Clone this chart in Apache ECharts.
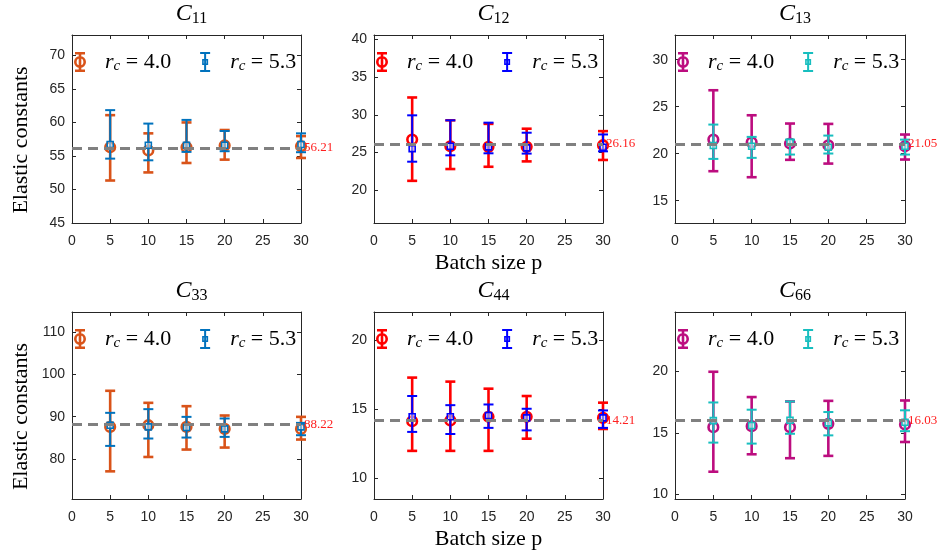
<!DOCTYPE html>
<html>
<head>
<meta charset="utf-8">
<script src="https://cdn.jsdelivr.net/npm/echarts@6/dist/echarts.min.js"></script>
<style>
html,body{margin:0;padding:0;background:#fff;}
#chart{width:945px;height:552px;}
</style>
</head>
<body>
<div id="chart"></div>
<script>
// ---------------- DATA ----------------
const BATCH = [5, 10, 15, 20, 30];
const X_TICKS = [0, 5, 10, 15, 20, 25, 30];
const RC = ['4.0', '5.3'];
const PANEL_KEYS = ['11', '12', '13', '33', '44', '66'];
const REF = [56.21, 26.16, 21.05, 88.22, 14.21, 16.03];

const C11_TICKS = [45, 50, 55, 60, 65, 70];
const C12_TICKS = [20, 25, 30, 35, 40];
const C13_TICKS = [15, 20, 25, 30];
const C33_TICKS = [80, 90, 100, 110];
const C44_TICKS = [10, 15, 20];
const C66_TICKS = [10, 15, 20];

const C11_R40_MEAN = [56.30, 55.80, 56.30, 56.56, 56.45];
const C11_R40_LO   = [51.32, 52.53, 53.94, 54.44, 54.69];
const C11_R40_HI   = [61.09, 58.37, 60.00, 58.87, 57.96];
const C11_R53_MEAN = [56.71, 56.60, 56.60, 56.60, 56.70];
const C11_R53_LO   = [54.59, 54.34, 55.60, 55.70, 55.55];
const C11_R53_HI   = [61.84, 59.83, 60.38, 58.72, 58.37];

const C12_R40_MEAN = [26.73, 25.84, 25.76, 25.76, 25.98];
const C12_R40_LO   = [21.27, 22.83, 23.13, 23.84, 24.03];
const C12_R40_HI   = [32.29, 29.27, 28.80, 28.16, 27.84];
const C12_R53_MEAN = [25.53, 25.84, 25.76, 25.63, 25.71];
const C12_R53_LO   = [23.80, 24.64, 24.91, 24.87, 25.17];
const C12_R53_HI   = [29.93, 29.27, 28.96, 27.63, 27.40];

const C13_R40_MEAN = [21.51, 21.22, 21.08, 20.90, 20.80];
const C13_R40_LO   = [18.14, 17.50, 19.35, 18.95, 19.38];
const C13_R40_HI   = [26.75, 24.09, 23.21, 23.17, 22.04];
const C13_R53_MEAN = [20.87, 20.80, 21.22, 20.69, 20.80];
const C13_R53_LO   = [19.45, 19.56, 19.91, 20.02, 19.91];
const C13_R53_HI   = [23.10, 21.79, 21.50, 21.93, 21.50];

const C33_R40_MEAN = [87.58, 87.98, 87.58, 87.11, 87.11];
const C33_R40_LO   = [77.10, 80.49, 82.24, 82.71, 84.60];
const C33_R40_HI   = [96.10, 93.26, 92.47, 90.27, 89.95];
const C33_R53_MEAN = [87.98, 87.58, 87.43, 87.11, 87.58];
const C33_R53_LO   = [83.10, 84.84, 85.07, 85.23, 85.62];
const C33_R53_HI   = [90.90, 91.77, 89.95, 89.57, 88.53];

const C44_R40_MEAN = [14.14, 14.19, 14.46, 14.46, 14.38];
const C44_R40_LO   = [12.00, 12.00, 12.00, 12.88, 13.58];
const C44_R40_HI   = [17.29, 17.00, 16.49, 15.96, 15.48];
const C44_R53_MEAN = [14.46, 14.46, 14.55, 14.38, 14.38];
const C44_R53_LO   = [13.37, 13.22, 13.66, 13.48, 13.66];
const C44_R53_HI   = [15.96, 15.30, 15.35, 15.04, 14.92];

const C66_R40_MEAN = [15.47, 15.55, 15.47, 15.74, 15.68];
const C66_R40_LO   = [11.84, 13.26, 12.94, 13.13, 14.26];
const C66_R40_HI   = [19.98, 17.92, 17.56, 17.61, 17.64];
const C66_R53_MEAN = [16.00, 15.60, 16.03, 15.82, 15.87];
const C66_R53_LO   = [14.21, 14.13, 14.93, 14.80, 15.14];
const C66_R53_HI   = [17.48, 16.89, 17.56, 16.70, 16.84];

// ---------------- STYLE / LAYOUT ----------------
const LIM_FACTORS = [[0.8, 1.3], [0.6, 1.55], [0.6, 1.55], [0.8, 1.3], [0.6, 1.55], [0.6, 1.55]];
const COLORS = [
  ['#D95319', '#0072BD'],
  ['#FF0000', '#0000FF'],
  ['#BC0D7F', '#17BEBF'],
  ['#D95319', '#0072BD'],
  ['#FF0000', '#0000FF'],
  ['#BC0D7F', '#17BEBF']
];
const GRID_LEFT = [72, 374, 675];
const GRID_W = [229, 229, 230];
const ROW_TOP = [35, 312];
const ROW_H = [188, 187];
const AX_COLOR = '#262626';
const SERIF = 'Liberation Serif';
const SANS = 'Liberation Sans';

const TICKS = [C11_TICKS, C12_TICKS, C13_TICKS, C33_TICKS, C44_TICKS, C66_TICKS];
const SERIES_DATA = [
  [[C11_R40_MEAN, C11_R40_LO, C11_R40_HI], [C11_R53_MEAN, C11_R53_LO, C11_R53_HI]],
  [[C12_R40_MEAN, C12_R40_LO, C12_R40_HI], [C12_R53_MEAN, C12_R53_LO, C12_R53_HI]],
  [[C13_R40_MEAN, C13_R40_LO, C13_R40_HI], [C13_R53_MEAN, C13_R53_LO, C13_R53_HI]],
  [[C33_R40_MEAN, C33_R40_LO, C33_R40_HI], [C33_R53_MEAN, C33_R53_LO, C33_R53_HI]],
  [[C44_R40_MEAN, C44_R40_LO, C44_R40_HI], [C44_R53_MEAN, C44_R53_LO, C44_R53_HI]],
  [[C66_R40_MEAN, C66_R40_LO, C66_R40_HI], [C66_R53_MEAN, C66_R53_LO, C66_R53_HI]]
];

// legend glyphs (12 x 20 box)
const ICON_CIRCLE = 'path://M1,0H11V2.6H1Z M4.7,0H7.3V20H4.7Z M1,17.4H11V20H1Z ' +
  'M0,10A6,6 0 1,1 12,10A6,6 0 1,1 0,10Z M2.6,10A3.4,3.4 0 1,0 9.4,10A3.4,3.4 0 1,0 2.6,10Z';
const ICON_SQUARE = 'path://M1,0H11V2H1Z M5,0H7V20H5Z M1,18H11V20H1Z ' +
  'M3,7H9V13H3Z M4.6,8.6V11.4H7.4V8.6Z';

function makeRender(color, kind) {
  return function (params, api) {
    const x = api.value(0), m = api.value(1), lo = api.value(2), hi = api.value(3);
    const c = api.coord([x, m]);
    const a = api.coord([x, hi]);
    const b = api.coord([x, lo]);
    const lw = kind === 'circle' ? 2.6 : 2.0;
    const cw = 5;
    const ls = { stroke: color, lineWidth: lw, fill: 'none' };
    const children = [
      { type: 'line', shape: { x1: c[0], y1: a[1], x2: c[0], y2: b[1] }, style: ls },
      { type: 'line', shape: { x1: c[0] - cw, y1: a[1], x2: c[0] + cw, y2: a[1] }, style: ls },
      { type: 'line', shape: { x1: c[0] - cw, y1: b[1], x2: c[0] + cw, y2: b[1] }, style: ls }
    ];
    if (kind === 'circle') {
      children.push({ type: 'circle', shape: { cx: c[0], cy: c[1], r: 4.8 }, style: { stroke: color, lineWidth: 2.6, fill: 'none' } });
    } else {
      children.push({ type: 'rect', shape: { x: c[0] - 3, y: c[1] - 3, width: 6, height: 6 }, style: { stroke: color, lineWidth: 1.6, fill: 'rgba(255,255,255,0.45)' } });
    }
    return { type: 'group', children: children };
  };
}

const grids = [], xAxes = [], yAxes = [], series = [], titles = [], legends = [];

PANEL_KEYS.forEach(function (key, i) {
  const row = Math.floor(i / 3), col = i % 3;
  const left = GRID_LEFT[col], top = ROW_TOP[row], w = GRID_W[col], h = ROW_H[row];
  grids.push({ left: left, top: top, width: w, height: h, containLabel: false });
  const ymin = REF[i] * LIM_FACTORS[i][0], ymax = REF[i] * LIM_FACTORS[i][1];
  const lineStyle = { color: AX_COLOR, width: 1 };
  xAxes.push({
    type: 'value', gridIndex: i, min: 0, max: 30, position: 'bottom',
    axisLine: { show: true, onZero: false, lineStyle: lineStyle },
    axisTick: { show: true, inside: true, length: 4, customValues: X_TICKS, lineStyle: lineStyle },
    axisLabel: { show: true, customValues: X_TICKS, margin: 11, color: AX_COLOR, fontFamily: SANS, fontSize: 14 },
    splitLine: { show: false },
    name: col === 1 ? 'Batch size p' : '',
    nameLocation: 'middle', nameGap: 29,
    nameTextStyle: { fontFamily: SERIF, fontSize: 22, color: '#000' }
  });
  xAxes.push({
    type: 'value', gridIndex: i, min: 0, max: 30, position: 'top',
    axisLine: { show: true, onZero: false, lineStyle: lineStyle },
    axisTick: { show: true, inside: true, length: 4, customValues: X_TICKS, lineStyle: lineStyle },
    axisLabel: { show: false }, splitLine: { show: false }
  });
  yAxes.push({
    type: 'value', gridIndex: i, min: ymin, max: ymax, position: 'left',
    axisLine: { show: true, onZero: false, lineStyle: lineStyle },
    axisTick: { show: true, inside: true, length: 4, customValues: TICKS[i], lineStyle: lineStyle },
    axisLabel: { show: true, customValues: TICKS[i], margin: 7, color: AX_COLOR, fontFamily: SANS, fontSize: 14 },
    splitLine: { show: false },
    name: col === 0 ? 'Elastic constants' : '',
    nameLocation: 'middle', nameGap: 40,
    nameTextStyle: { fontFamily: SERIF, fontSize: 22, color: '#000', padding: [0, 22, 0, 0] }
  });
  yAxes.push({
    type: 'value', gridIndex: i, min: ymin, max: ymax, position: 'right',
    axisLine: { show: true, onZero: false, lineStyle: lineStyle },
    axisTick: { show: true, inside: true, length: 4, customValues: TICKS[i], lineStyle: lineStyle },
    axisLabel: { show: false }, splitLine: { show: false }
  });

  series.push({
    type: 'line', xAxisIndex: 2 * i, yAxisIndex: 2 * i, data: [], silent: true, z: 1,
    markLine: {
      silent: true, symbol: 'none', animation: false,
      lineStyle: { type: [10, 6], color: '#808080', width: 3 },
      label: {
        show: true, position: 'end', distance: 3,
        formatter: REF[i].toFixed(2), color: '#FF2020', fontFamily: SERIF, fontSize: 13
      },
      data: [{ yAxis: REF[i] }]
    }
  });

  const names = [];
  SERIES_DATA[i].forEach(function (arr, k) {
    const name = 'C' + key + '|' + RC[k];
    names.push(name);
    const kind = k === 0 ? 'circle' : 'square';
    series.push({
      type: 'custom', name: name, xAxisIndex: 2 * i, yAxisIndex: 2 * i, z: 2 + k,
      itemStyle: { color: COLORS[i][k] },
      renderItem: makeRender(COLORS[i][k], kind),
      encode: { x: 0, y: [1, 2, 3] },
      data: BATCH.map(function (p, j) { return [p, arr[0][j], arr[1][j], arr[2][j]]; })
    });
  });

  titles.push({
    text: '{c|C}{s|' + key + '}',
    left: left + w / 2, textAlign: 'center',
    top: row === 0 ? -5 : 272,
    textStyle: {
      fontWeight: 'normal',
      rich: {
        c: { fontFamily: SERIF, fontStyle: 'italic', fontWeight: 'normal', fontSize: 24, color: '#000', lineHeight: 28 },
        s: { fontFamily: SERIF, fontWeight: 'normal', fontSize: 16, color: '#000', lineHeight: 28, padding: [10, 0, 0, 0] }
      }
    }
  });

  legends.push({
    left: left + 2, top: row === 0 ? 50 : 327, padding: 0,
    itemWidth: 40, itemHeight: 20, itemGap: 29, symbolKeepAspect: true,
    selectedMode: false,
    data: [{ name: names[0], icon: ICON_CIRCLE }, { name: names[1], icon: ICON_SQUARE }],
    formatter: function (n) { return '{i|r}{s|c}{n| = ' + n.split('|')[1] + '}'; },
    textStyle: {
      width: 68, color: '#000',
      rich: {
        i: { fontFamily: SERIF, fontStyle: 'italic', fontSize: 22, lineHeight: 24, color: '#000' },
        s: { fontFamily: SERIF, fontStyle: 'italic', fontSize: 15, lineHeight: 24, color: '#000', padding: [9, 0, 0, 0] },
        n: { fontFamily: SERIF, fontSize: 22, lineHeight: 24, color: '#000' }
      }
    }
  });
});

const chart = echarts.init(document.getElementById('chart'), null, { renderer: 'canvas' });
chart.setOption({
  animation: false,
  backgroundColor: '#fff',
  title: titles,
  legend: legends,
  grid: grids,
  xAxis: xAxes,
  yAxis: yAxes,
  series: series
});
</script>
</body>
</html>
